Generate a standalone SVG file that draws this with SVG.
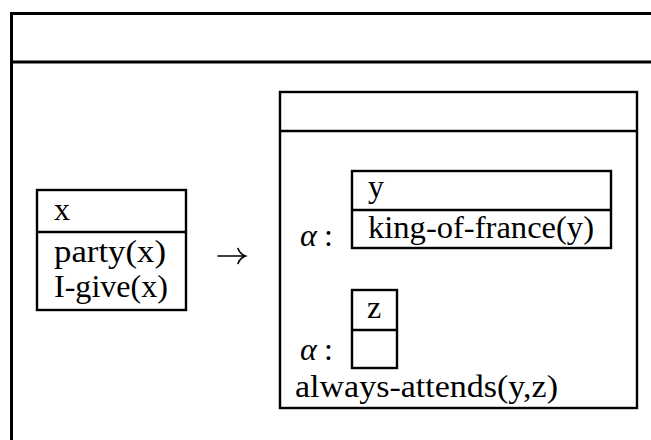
<svg xmlns="http://www.w3.org/2000/svg" width="651" height="440" viewBox="0 0 651 440">
  <style>
    .frame { fill: none; stroke: #000; stroke-width: 3; }
    .box { fill: none; stroke: #000; stroke-width: 2.4; }
    .arrow { fill: none; stroke: #000; stroke-width: 1.6; stroke-linecap: round; }
    .t { font-family: "Liberation Serif", "DejaVu Serif", serif; font-size: 32px; fill: #000; }
    .greek { font-style: italic; }
  </style>
  <rect width="651" height="440" fill="#fff"/>

  <!-- outer frame, running off the right and bottom edges -->
  <g id="outer">
    <path class="frame" d="M 11.5 445 V 13.5 H 660"/>
    <line class="frame" x1="11.5" y1="62" x2="660" y2="62"/>
  </g>

  <!-- left box -->
  <g id="left-box">
    <rect class="box" x="37" y="190" width="149" height="120"/>
    <line class="box" x1="37" y1="232" x2="186" y2="232"/>
    <text class="t" x="54" y="220">x</text>
    <text class="t" x="54" y="262" textLength="112" lengthAdjust="spacingAndGlyphs">party(x)</text>
    <text class="t" x="54" y="297" textLength="114" lengthAdjust="spacingAndGlyphs">I-give(x)</text>
  </g>

  <!-- implication arrow -->
  <g id="connectors">
    <path class="arrow" d="M 218 256 H 245 M 238 248.5 Q 240 254 245.5 256 Q 240 258 238 263.5"/>
  </g>

  <!-- right box -->
  <g id="right-box">
    <rect class="box" x="280" y="92" width="357" height="316"/>
    <line class="box" x1="280" y1="131" x2="637" y2="131"/>
    <text class="t" x="300" y="246"><tspan class="greek">α</tspan><tspan x="324">:</tspan></text>
    <text class="t" x="300" y="360"><tspan class="greek">α</tspan><tspan x="324">:</tspan></text>
    <text class="t" x="295" y="397" textLength="263" lengthAdjust="spacingAndGlyphs">always-attends(y,z)</text>
  </g>

  <!-- sub-box y -->
  <g id="box-y">
    <rect class="box" x="352" y="171" width="259" height="77"/>
    <line class="box" x1="352" y1="210" x2="611" y2="210"/>
    <text class="t" x="368" y="197">y</text>
    <text class="t" x="368" y="238" textLength="226" lengthAdjust="spacingAndGlyphs">king-of-france(y)</text>
  </g>

  <!-- sub-box z -->
  <g id="box-z">
    <rect class="box" x="352" y="290" width="45" height="78"/>
    <line class="box" x1="352" y1="330" x2="397" y2="330"/>
    <text class="t" x="367" y="318">z</text>
  </g>
</svg>
